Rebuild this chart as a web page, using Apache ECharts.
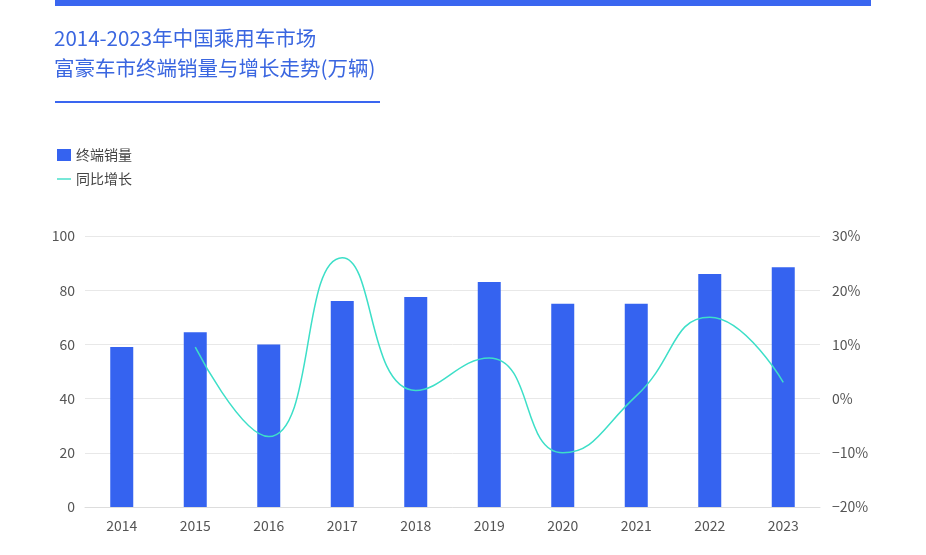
<!DOCTYPE html>
<html><head><meta charset="utf-8">
<script src="https://cdn.jsdelivr.net/npm/echarts@6/dist/echarts.min.js"></script>
<style>html,body{margin:0;padding:0;background:#fff}#c{width:926px;height:555px}</style>
</head><body><div id="c"></div>
<script>
const years = ['2014','2015','2016','2017','2018','2019','2020','2021','2022','2023'];
const sales = [59, 64.5, 60, 76, 77.5, 83, 75, 75, 86, 88.5];
const growth = [null, 9.5, -7, 26, 1.5, 7.5, -10, 0.5, 15, 3];
const chart = echarts.init(document.getElementById('c'));
const FONT = '"Noto Sans CJK SC","Noto Sans",sans-serif';
chart.setOption({
  animation:false,
  textStyle:{fontFamily:FONT},
  graphic:[
    {type:'rect',shape:{x:55,y:0,width:816,height:6},style:{fill:'#3a66f0'}},
    {type:'text',left:54,top:23,style:{text:'2014-2023年中国乘用车市场\n富豪车市终端销量与增长走势(万辆)',fill:'#3a66e0',font:'20.5px '+FONT,lineHeight:30}},
    {type:'rect',shape:{x:55,y:101,width:325,height:2},style:{fill:'#3a66f0'}}
  ],
  legend:{orient:'vertical',left:52,top:143,itemGap:10,itemWidth:14,itemHeight:12,
    textStyle:{color:'#444',fontSize:14,fontFamily:FONT},
    data:[{name:'终端销量',icon:'rect'},{name:'同比增长',icon:'path://M0,5L20,5L20,7L0,7Z'}]},
  grid:{left:85,right:106,top:236,bottom:48},
  xAxis:{type:'category',data:years,axisTick:{show:false},axisLine:{lineStyle:{color:'#ddd'}},
    axisLabel:{color:'#555',fontSize:14,margin:12}},
  yAxis:[
    {type:'value',min:0,max:100,interval:20,axisLabel:{color:'#555',fontSize:14,margin:10},
     splitLine:{lineStyle:{color:'#e8e8e8'}}},
    {type:'value',min:-20,max:30,interval:10,axisLabel:{color:'#555',fontSize:14,formatter:v=>(v<0?'−'+(-v):v)+'%',margin:12},
     splitLine:{show:false}}
  ],
  series:[
    {name:'终端销量',type:'bar',data:sales,barWidth:23,itemStyle:{color:'#3563f0'}},
    {name:'同比增长',type:'line',yAxisIndex:1,data:growth,smooth:0.5,showSymbol:false,
     lineStyle:{color:'#3ddfc8',width:1.5},itemStyle:{color:'#3ddfc8'}}
  ]
});
</script></body></html>
